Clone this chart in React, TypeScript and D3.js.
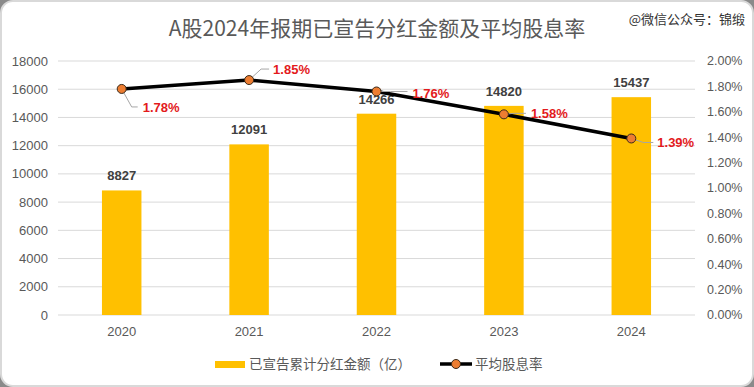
import React from 'react';
import * as d3 from 'd3';

// --- DATA ---
const years = ['2020', '2021', '2022', '2023', '2024'];
const dividendTotals = [8827, 12091, 14266, 14820, 15437];
const avgYield = [1.78, 1.85, 1.76, 1.58, 1.39];
const leftTicks = [0, 2000, 4000, 6000, 8000, 10000, 12000, 14000, 16000, 18000];
const rightTicks = [0, 0.2, 0.4, 0.6, 0.8, 1.0, 1.2, 1.4, 1.6, 1.8, 2.0];

const title = 'A股2024年报期已宣告分红金额及平均股息率';
const watermark = '@微信公众号：锦缎';
const barLegend = '已宣告累计分红金额（亿）';
const lineLegend = '平均股息率';

// leader line layout for the percent labels: [elbow dx, elbow dy, end dx, text dx, text dy]
const labelLayout: [number, number, number, number, number][] = [
  [10, 18, 16, 21, 19],
  [12, -11, 20, 24, -11],
  [14, 0, 31, 36, 2],
  [10, -1, 22, 27, -1],
  [12, 4, 22, 26, 4],
];

const W = 754;
const H = 387;
const margin = { top: 61, right: 59, bottom: 72, left: 58 };

const CJK = '"Noto Sans CJK SC", "Noto Sans", sans-serif';
const LATIN = '"Liberation Sans", Arial, sans-serif';

export default function App() {
  const innerW = W - margin.left - margin.right;
  const innerH = H - margin.top - margin.bottom;

  const x = d3.scaleBand().domain(years).range([0, innerW]).paddingInner(0.69).paddingOuter(0.345);
  const yL = d3.scaleLinear().domain([0, 18000]).range([innerH, 0]);
  const yR = d3.scaleLinear().domain([0, 2.0]).range([innerH, 0]);

  const cx = (i: number) => (x(years[i]) || 0) + x.bandwidth() / 2;
  const line = d3
    .line<number>()
    .x((_, i) => cx(i))
    .y((d) => yR(d));

  return (
    <div style={{ position: 'fixed', left: 0, top: 0 }}>
      <svg width={W} height={H} style={{ display: 'block' }}>
        <rect x={0} y={0} width={W} height={H} fill="#8a8a8a" />
        <rect x={1} y={1} width={W - 2} height={H - 2} rx={12} ry={12} fill="#ffffff" stroke="#d9d9d9" strokeWidth={2} />

        <text x={377} y={36} textAnchor="middle" fontFamily={CJK} fontSize={21} fill="#595959">
          {title}
        </text>
        <text x={745} y={24} textAnchor="end" fontFamily={CJK} fontSize={13} fill="#333333">
          {watermark}
        </text>

        <g transform={`translate(${margin.left},${margin.top})`}>
          {/* gridlines */}
          {leftTicks.map((t) => (
            <line key={t} x1={0} x2={innerW} y1={yL(t)} y2={yL(t)} stroke="#d9d9d9" strokeWidth={1} />
          ))}

          {/* left axis labels */}
          {leftTicks.map((t) => (
            <text key={t} x={-10} y={yL(t)} dy="0.35em" textAnchor="end" fontFamily={LATIN} fontSize={13} fill="#595959">
              {t}
            </text>
          ))}

          {/* right axis labels */}
          {rightTicks.map((t) => (
            <text key={t} x={innerW + 12} y={yR(t)} dy="0.35em" textAnchor="start" fontFamily={LATIN} fontSize={12.5} fill="#595959">
              {t.toFixed(2) + '%'}
            </text>
          ))}

          {/* category labels */}
          {years.map((yr, i) => (
            <text key={yr} x={cx(i)} y={innerH + 16} dy="0.35em" textAnchor="middle" fontFamily={LATIN} fontSize={13} fill="#595959">
              {yr}
            </text>
          ))}

          {/* bars */}
          {dividendTotals.map((v, i) => (
            <rect key={i} x={x(years[i])} y={yL(v)} width={x.bandwidth()} height={innerH - yL(v)} fill="#FFC000" />
          ))}
          {dividendTotals.map((v, i) => (
            <text key={i} x={cx(i)} y={yL(v) - 10} textAnchor="middle" fontFamily={LATIN} fontSize={13} fontWeight="bold" fill="#404040">
              {v}
            </text>
          ))}

          {/* line */}
          <path d={line(avgYield) || ''} fill="none" stroke="#000000" strokeWidth={3.5} strokeLinejoin="round" />

          {/* leader lines + labels */}
          {avgYield.map((v, i) => {
            const [ex, ey, endx, tx, ty] = labelLayout[i];
            const px = cx(i);
            const py = yR(v);
            return (
              <g key={i}>
                <polyline
                  points={`${px},${py} ${px + ex},${py + ey} ${px + endx},${py + ey}`}
                  fill="none"
                  stroke="#a6a6a6"
                  strokeWidth={1}
                />
                <text x={px + tx} y={py + ty} dy="0.35em" fontFamily={LATIN} fontSize={13} fontWeight="bold" fill="#e31a1c">
                  {v.toFixed(2) + '%'}
                </text>
              </g>
            );
          })}

          {avgYield.map((v, i) => (
            <circle key={i} cx={cx(i)} cy={yR(v)} r={4.5} fill="#ED7D31" stroke="#3a2a1a" strokeWidth={1} />
          ))}
        </g>

        {/* legend */}
        <g>
          <rect x={215} y={361} width={30} height={7} fill="#FFC000" />
          <text x={249} y={364} dy="0.35em" fontFamily={CJK} fontSize={13.5} fill="#595959">
            {barLegend}
          </text>
          <line x1={440} x2={472} y1={364} y2={364} stroke="#000000" strokeWidth={3.5} />
          <circle cx={456} cy={364} r={4.5} fill="#ED7D31" stroke="#3a2a1a" strokeWidth={1} />
          <text x={475} y={364} dy="0.35em" fontFamily={CJK} fontSize={13.5} fill="#595959">
            {lineLegend}
          </text>
        </g>
      </svg>
    </div>
  );
}
